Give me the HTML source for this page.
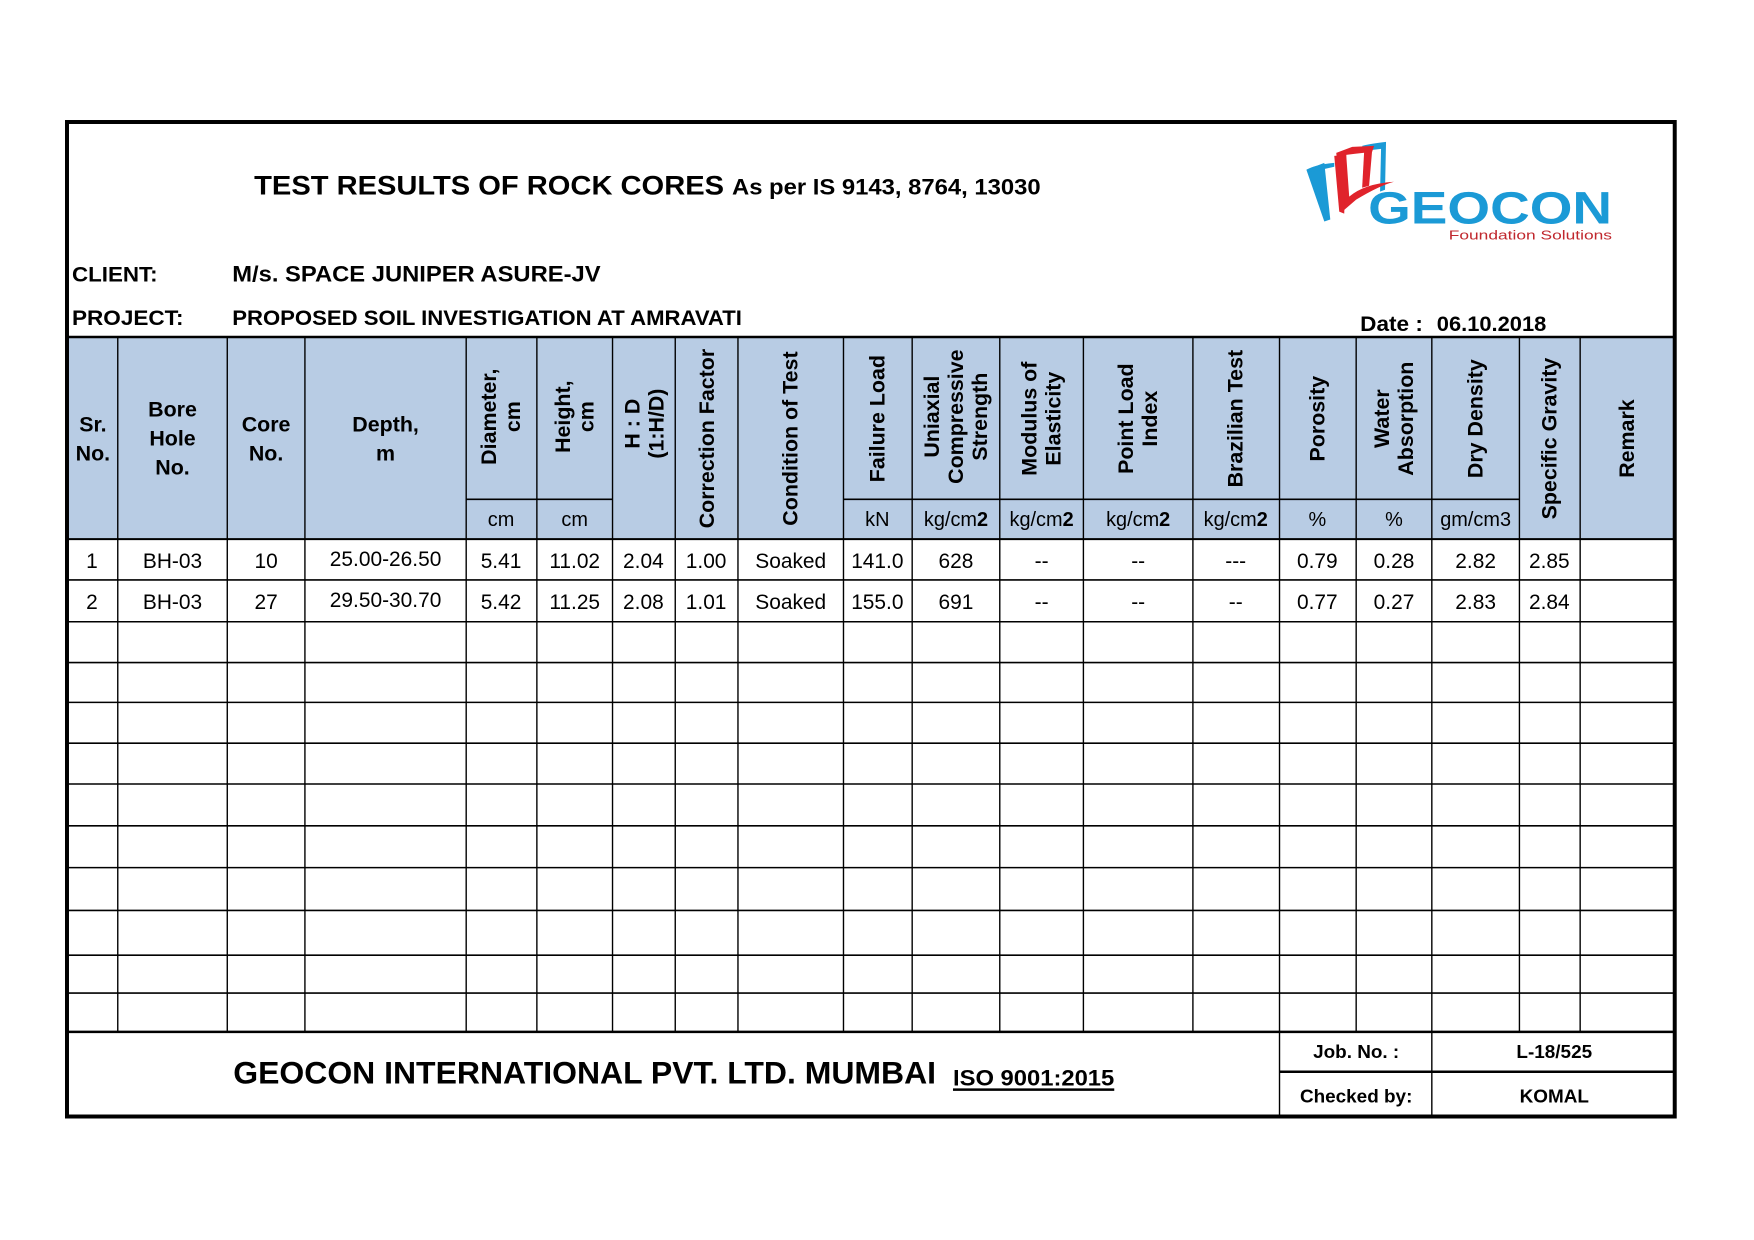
<!DOCTYPE html>
<html><head><meta charset="utf-8"><style>
html,body{margin:0;padding:0;background:#fff;}
svg{display:block;font-family:"Liberation Sans",Arial,sans-serif;}
.b{font-weight:bold;}
.h{font-weight:bold;font-size:21.5px;}
.hh{font-weight:bold;font-size:20.5px;}
.d{font-size:21px;}
</style></head><body>
<svg width="1754" height="1240" viewBox="0 0 1754 1240" xmlns="http://www.w3.org/2000/svg">
<rect x="0" y="0" width="1754" height="1240" fill="#fff"/>
<g transform="translate(66,122) scale(0.9955) translate(-66,-122)">
<rect x="66" y="338" width="1617" height="203" fill="#b8cce4"/>
<rect x="67" y="122" width="1615" height="999" fill="none" stroke="#000" stroke-width="4"/>
<g stroke="#000" stroke-width="1.6">
<line x1="66" y1="338" x2="1683" y2="338" stroke-width="2.5"/>
<line x1="468" y1="501" x2="615" y2="501"/>
<line x1="847" y1="501" x2="1526" y2="501"/>
<line x1="66" y1="541" x2="1683" y2="541" stroke-width="2"/>
<line x1="66" y1="582" x2="1683" y2="582"/>
<line x1="66" y1="624" x2="1683" y2="624"/>
<line x1="66" y1="665" x2="1683" y2="665"/>
<line x1="66" y1="705" x2="1683" y2="705"/>
<line x1="66" y1="746" x2="1683" y2="746"/>
<line x1="66" y1="787" x2="1683" y2="787"/>
<line x1="66" y1="829" x2="1683" y2="829"/>
<line x1="66" y1="871" x2="1683" y2="871"/>
<line x1="66" y1="914" x2="1683" y2="914"/>
<line x1="66" y1="959" x2="1683" y2="959"/>
<line x1="66" y1="997" x2="1683" y2="997"/>
<line x1="66" y1="1036" x2="1683" y2="1036" stroke-width="2.5"/>
<line x1="1285" y1="1076" x2="1683" y2="1076" stroke-width="2.5"/>
</g>
<g stroke="#000" stroke-width="1.4">
<line x1="118" y1="338" x2="118" y2="1036"/>
<line x1="228" y1="338" x2="228" y2="1036"/>
<line x1="306" y1="338" x2="306" y2="1036"/>
<line x1="468" y1="338" x2="468" y2="1036"/>
<line x1="539" y1="338" x2="539" y2="1036"/>
<line x1="615" y1="338" x2="615" y2="1036"/>
<line x1="678" y1="338" x2="678" y2="1036"/>
<line x1="741" y1="338" x2="741" y2="1036"/>
<line x1="847" y1="338" x2="847" y2="1036"/>
<line x1="916" y1="338" x2="916" y2="1036"/>
<line x1="1004" y1="338" x2="1004" y2="1036"/>
<line x1="1088" y1="338" x2="1088" y2="1036"/>
<line x1="1198" y1="338" x2="1198" y2="1036"/>
<line x1="1285" y1="338" x2="1285" y2="1122"/>
<line x1="1362" y1="338" x2="1362" y2="1036"/>
<line x1="1438" y1="338" x2="1438" y2="1122"/>
<line x1="1526" y1="338" x2="1526" y2="1036"/>
<line x1="1587" y1="338" x2="1587" y2="1036"/>
</g>

<text x="255" y="195" class="b" font-size="27" textLength="472" lengthAdjust="spacingAndGlyphs">TEST  RESULTS  OF  ROCK CORES</text>
<text x="735" y="195" class="b" font-size="22" textLength="310" lengthAdjust="spacingAndGlyphs">As per IS 9143, 8764, 13030</text>
<text x="72" y="282" class="b" font-size="21" textLength="86" lengthAdjust="spacingAndGlyphs">CLIENT:</text>
<text x="233" y="282" class="b" font-size="22" textLength="370" lengthAdjust="spacingAndGlyphs">M/s. SPACE JUNIPER ASURE-JV</text>
<text x="72" y="326" class="b" font-size="21" textLength="112" lengthAdjust="spacingAndGlyphs">PROJECT:</text>
<text x="233" y="326" class="b" font-size="21" textLength="512" lengthAdjust="spacingAndGlyphs">PROPOSED SOIL INVESTIGATION AT AMRAVATI</text>
<text x="1366" y="332" class="b" font-size="21" textLength="63" lengthAdjust="spacingAndGlyphs">Date :</text>
<text x="1443" y="332" class="b" font-size="21" textLength="110" lengthAdjust="spacingAndGlyphs">06.10.2018</text>

<g>
<path d="M1312 170 L1330 163 L1336 220 L1330 222 Z" fill="#1b9ad6"/>
<path d="M1312 170 Q1320 165 1340 163 L1340 167 L1318 172 Z" fill="#1b9ad6"/>
<path d="M1368 146 Q1375 144 1392 142 L1391 190 L1386 192 L1387 149 L1370 151 Z" fill="#1b9ad6"/>
<path d="M1342 153 L1358 147 L1380 146 L1378 152 L1360 154 L1352 155 L1355 197 Q1370 184 1400 182 Q1385 186 1362 200 L1348 212 Z" fill="#e0232b"/>
<path d="M1340 156 L1352 155 L1350 214 L1345 212 Z" fill="#e0232b"/>
<path d="M1370 152 L1378 151 L1375 186 L1368 188 Z" fill="#e0232b"/>
<text x="1374" y="224" font-size="46" font-weight="bold" fill="#1b9ad6" textLength="245" lengthAdjust="spacingAndGlyphs">GEOCON</text>
<text x="1455" y="240" font-size="13" fill="#c0272d" textLength="164" lengthAdjust="spacingAndGlyphs">Foundation Solutions</text>
</g>

<g class="h" text-anchor="middle">
<text x="93" y="433">Sr.</text><text x="93" y="462">No.</text>
<text x="173" y="418">Bore</text><text x="173" y="447">Hole</text><text x="173" y="476">No.</text>
<text x="267" y="433">Core</text><text x="267" y="462">No.</text>
<text x="387" y="433">Depth,</text><text x="387" y="462">m</text>
</g>
<g font-size="20" text-anchor="middle">
<text x="503" y="528">cm</text>
<text x="577" y="528">cm</text>
<text x="881" y="528">kN</text>
<text x="960" y="528">kg/cm<tspan font-weight="bold">2</tspan></text>
<text x="1046" y="528">kg/cm<tspan font-weight="bold">2</tspan></text>
<text x="1143" y="528">kg/cm<tspan font-weight="bold">2</tspan></text>
<text x="1241" y="528">kg/cm<tspan font-weight="bold">2</tspan></text>
<text x="1323" y="528">%</text>
<text x="1400" y="528">%</text>
<text x="1482" y="528">gm/cm3</text>
</g>
<g class="h" text-anchor="middle" dominant-baseline="central">
<text transform="translate(491,418) rotate(-90)">Diameter,</text>
<text transform="translate(515,418) rotate(-90)">cm</text>
<text transform="translate(565,418) rotate(-90)">Height,</text>
<text transform="translate(589,418) rotate(-90)">cm</text>
<text transform="translate(635,425) rotate(-90)">H : D</text>
<text transform="translate(659,425) rotate(-90)">(1:H/D)</text>
<text transform="translate(710,440) rotate(-90)">Correction Factor</text>
<text transform="translate(794,440) rotate(-90)">Condition of Test</text>
<text transform="translate(881,420) rotate(-90)">Failure Load</text>
<text transform="translate(936,418) rotate(-90)">Uniaxial</text>
<text transform="translate(960,418) rotate(-90)">Compressive</text>
<text transform="translate(984,418) rotate(-90)">Strength</text>
<text transform="translate(1034,420) rotate(-90)">Modulus of</text>
<text transform="translate(1058,420) rotate(-90)">Elasticity</text>
<text transform="translate(1131,420) rotate(-90)">Point Load</text>
<text transform="translate(1155,420) rotate(-90)">Index</text>
<text transform="translate(1241,420) rotate(-90)">Brazilian Test</text>
<text transform="translate(1323,420) rotate(-90)">Porosity</text>
<text transform="translate(1388,420) rotate(-90)">Water</text>
<text transform="translate(1412,420) rotate(-90)">Absorption</text>
<text transform="translate(1482,420) rotate(-90)">Dry  Density</text>
<text transform="translate(1556,440) rotate(-90)">Specific Gravity</text>
<text transform="translate(1634,440) rotate(-90)">Remark</text>
</g>

<g class="d" text-anchor="middle">
<text x="92" y="570">1</text><text x="173" y="570">BH-03</text><text x="267" y="570">10</text><text x="387" y="568">25.00-26.50</text>
<text x="503" y="570">5.41</text><text x="577" y="570">11.02</text><text x="646" y="570">2.04</text><text x="709" y="570">1.00</text>
<text x="794" y="570">Soaked</text><text x="881" y="570">141.0</text><text x="960" y="570">628</text><text x="1046" y="570">--</text>
<text x="1143" y="570">--</text><text x="1241" y="570">---</text><text x="1323" y="570">0.79</text><text x="1400" y="570">0.28</text>
<text x="1482" y="570">2.82</text><text x="1556" y="570">2.85</text>
<text x="92" y="611">2</text><text x="173" y="611">BH-03</text><text x="267" y="611">27</text><text x="387" y="609">29.50-30.70</text>
<text x="503" y="611">5.42</text><text x="577" y="611">11.25</text><text x="646" y="611">2.08</text><text x="709" y="611">1.01</text>
<text x="794" y="611">Soaked</text><text x="881" y="611">155.0</text><text x="960" y="611">691</text><text x="1046" y="611">--</text>
<text x="1143" y="611">--</text><text x="1241" y="611">--</text><text x="1323" y="611">0.77</text><text x="1400" y="611">0.27</text>
<text x="1482" y="611">2.83</text><text x="1556" y="611">2.84</text>
</g>

<text x="234" y="1088" class="b" font-size="32" textLength="706" lengthAdjust="spacingAndGlyphs">GEOCON INTERNATIONAL PVT. LTD. MUMBAI</text>
<text x="957" y="1090" class="b" font-size="22" textLength="162" lengthAdjust="spacingAndGlyphs">ISO 9001:2015</text>
<line x1="957" y1="1094" x2="1119" y2="1094" stroke="#000" stroke-width="2.5"/>
<g class="b" font-size="19" text-anchor="middle">
<text x="1362" y="1062">Job. No.  :</text>
<text x="1561" y="1062">L-18/525</text>
<text x="1362" y="1107">Checked by:</text>
<text x="1561" y="1107">KOMAL</text>
</g>
</g>
</svg>
</body></html>
